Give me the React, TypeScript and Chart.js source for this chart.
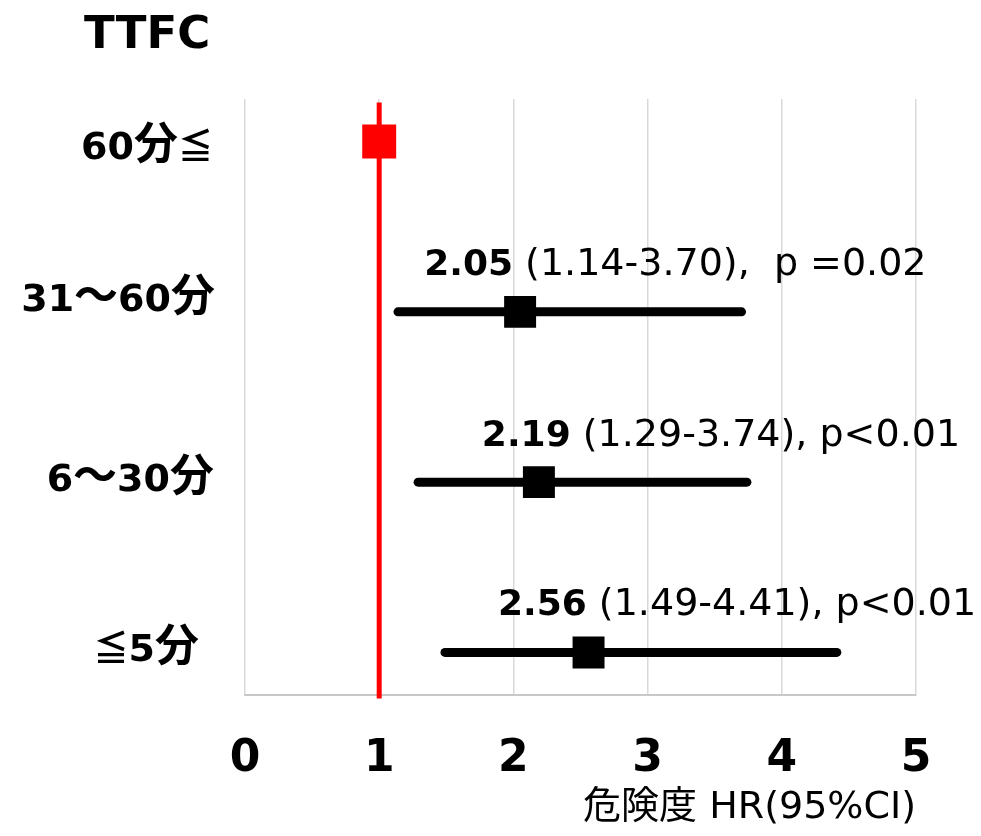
import React, { useEffect, useRef } from 'react';
import { Chart, registerables } from 'chart.js';

Chart.register(...registerables);

// Forest plot data: time to first cigarette (TTFC) groups vs hazard ratio
const categories = ['60分≦', '31～60分', '6～30分', '≦5分'];
const hazardRatios = [1, 2.05, 2.19, 2.56];
const ciLower: (number | null)[] = [null, 1.14, 1.29, 1.49];
const ciUpper: (number | null)[] = [null, 3.7, 3.74, 4.41];
const pValueTexts = ['', '  p =0.02', ' p<0.01', ' p<0.01'];
const xTickValues = [0, 1, 2, 3, 4, 5];

// Annotation / label placement
const ANNOT_X = [0, 1.335, 1.765, 1.885]; // left edge of the annotation, in HR units
const ANNOT_DY = [0, -37, -36, -37]; // baseline offset from the row centre, px
const CATEGORY_RIGHT = [213, 215, 214, 199]; // right edge of each category label, px
const CATEGORY_DY = [17, -1, 9, 9]; // category label baseline offset from the row centre, px

const LATIN = '"DejaVu Sans", "Noto Sans CJK JP", sans-serif';
const CJK = '"Noto Sans CJK JP", "DejaVu Sans", sans-serif';

const rowY = (i: number) => categories.length - 1 - i;

type RunKind = 'latin' | 'cjk' | 'rel';

// Font used for each kind of character in the category labels
const runFont: Record<RunKind, string> = {
  latin: `bold 38px ${LATIN}`,
  cjk: `bold 44px ${CJK}`,
  rel: `bold 35px ${CJK}`,
};

function kindOf(ch: string): RunKind {
  if (ch === '≦') return 'rel';
  return ch.charCodeAt(0) > 0x2000 ? 'cjk' : 'latin';
}

// Split a label into runs so each gets its own font
function splitRuns(text: string) {
  const runs: { s: string; kind: RunKind }[] = [];
  for (const ch of text) {
    const kind = kindOf(ch);
    const last = runs[runs.length - 1];
    if (last && last.kind === kind) last.s += ch;
    else runs.push({ s: ch, kind });
  }
  return runs;
}

function drawMixed(ctx: CanvasRenderingContext2D, text: string, right: number, y: number) {
  const runs = splitRuns(text);
  const widths = runs.map((r) => {
    ctx.font = runFont[r.kind];
    return ctx.measureText(r.s).width;
  });
  let x = right - widths.reduce((a, b) => a + b, 0);
  runs.forEach((r, k) => {
    ctx.font = runFont[r.kind];
    ctx.fillText(r.s, x, y);
    x += widths[k];
  });
}

const forestText = {
  id: 'forestText',
  afterDraw(chart: Chart) {
    const { ctx } = chart;
    const xs = chart.scales.x;
    const ys = chart.scales.y;
    ctx.save();
    ctx.fillStyle = '#000';
    ctx.textAlign = 'left';
    ctx.textBaseline = 'alphabetic';

    // Title
    ctx.font = `bold 45px ${LATIN}`;
    ctx.fillText('TTFC', 84, 48);

    // Category labels
    categories.forEach((c, i) => {
      drawMixed(ctx, c, CATEGORY_RIGHT[i], ys.getPixelForValue(rowY(i)) + CATEGORY_DY[i]);
    });

    // HR (95% CI), p annotations
    hazardRatios.forEach((hr, i) => {
      const lo = ciLower[i];
      const hi = ciUpper[i];
      if (lo == null || hi == null) return;
      const x0 = xs.getPixelForValue(ANNOT_X[i]);
      const y0 = ys.getPixelForValue(rowY(i)) + ANNOT_DY[i];
      const bold = hr.toFixed(2);
      ctx.font = `bold 36px ${LATIN}`;
      ctx.fillText(bold, x0, y0);
      const w = ctx.measureText(bold).width;
      ctx.font = `38px ${LATIN}`;
      ctx.fillText(` (${lo.toFixed(2)}-${hi.toFixed(2)}),${pValueTexts[i]}`, x0 + w, y0);
    });
    ctx.restore();
  },
};

export default function App() {
  const canvasRef = useRef<HTMLCanvasElement | null>(null);

  useEffect(() => {
    const canvas = canvasRef.current;
    if (!canvas) return;

    const ciDatasets = hazardRatios
      .map((_, i) => i)
      .filter((i) => ciLower[i] != null && ciUpper[i] != null)
      .map((i) => ({
        label: `CI ${categories[i]}`,
        data: [
          { x: ciLower[i] as number, y: rowY(i) },
          { x: ciUpper[i] as number, y: rowY(i) },
        ],
        showLine: true,
        borderColor: '#000',
        borderWidth: 9,
        borderCapStyle: 'round' as const,
        pointRadius: 0,
        order: 1,
      }));

    const chart = new Chart(canvas, {
      type: 'scatter',
      data: {
        datasets: [
          {
            label: 'HR',
            data: hazardRatios.map((v, i) => ({ x: v, y: rowY(i) })),
            pointStyle: 'rect',
            pointRadius: hazardRatios.map((_, i) => (i === 0 ? 24 : 22.6)),
            backgroundColor: hazardRatios.map((_, i) => (i === 0 ? '#ff0000' : '#000')),
            borderWidth: 0,
            showLine: false,
            order: 0,
          },
          ...ciDatasets,
          {
            label: 'reference',
            data: [
              { x: 1, y: -0.27 },
              { x: 1, y: 3.23 },
            ],
            showLine: true,
            borderColor: '#ff0000',
            borderWidth: 5,
            pointRadius: 0,
            clip: false as any,
            order: 2,
          },
        ],
      },
      options: {
        responsive: false,
        animation: false,
        devicePixelRatio: 1,
        events: [],
        layout: { padding: { top: 99, left: 245, right: 65, bottom: 0 } },
        plugins: {
          legend: { display: false },
          tooltip: { enabled: false },
          title: { display: false },
        },
        scales: {
          x: {
            type: 'linear',
            min: 0,
            max: 5,
            afterBuildTicks: (s: any) => {
              s.ticks = xTickValues.map((v) => ({ value: v }));
            },
            afterFit: (s: any) => {
              s.paddingLeft = 0;
              s.paddingRight = 0;
              s.height = 141;
            },
            ticks: {
              color: '#000',
              padding: 38,
              font: { family: LATIN, size: 44, weight: 'bold' },
            },
            grid: { color: '#d9d9d9', lineWidth: 1.5, drawTicks: false },
            border: { color: '#c8c8c8', width: 2 },
            title: {
              display: true,
              text: '危険度 HR(95%CI)',
              align: 'end',
              color: '#000',
              font: { family: LATIN, size: 38 },
              padding: { top: 0, bottom: 5 },
            },
          },
          y: {
            type: 'linear',
            min: -0.25,
            max: 3.25,
            display: false,
          },
        },
      },
      plugins: [forestText],
    });

    return () => chart.destroy();
  }, []);

  return (
    <div style={{ position: 'absolute', left: 0, top: 0, width: 981, height: 836, background: '#fff' }}>
      <canvas ref={canvasRef} width={981} height={836} />
    </div>
  );
}
